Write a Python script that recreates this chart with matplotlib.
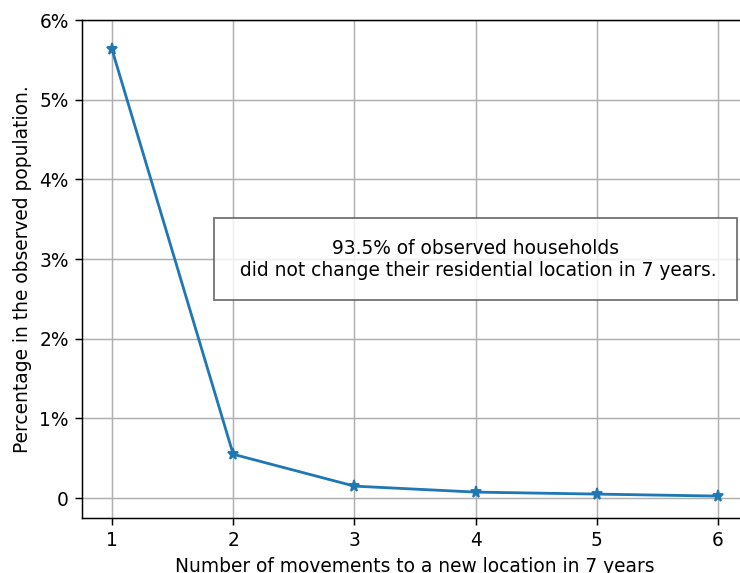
import matplotlib
matplotlib.use('Agg')
import matplotlib.pyplot as plt

moves = [1, 2, 3, 4, 5, 6]
share = [5.63, 0.55, 0.15, 0.075, 0.05, 0.025]
y_ticks = [0, 1, 2, 3, 4, 5, 6]
y_tick_labels = ['0', '1%', '2%', '3%', '4%', '5%', '6%']
note = "93.5% of observed households\n did not change their residential location in 7 years."

dpi = 134
fig = plt.figure(figsize=(740 / dpi, 573 / dpi), dpi=dpi)
# axes runs past the right edge, like the cropped original
ax = fig.add_axes([81.7 / 740, 1 - 518 / 573, 666.6 / 740, 498 / 573])

ax.plot(moves, share, marker='*', color='#1f77b4')
ax.set_xlim(0.75, 6.25)
ax.set_ylim(-0.25, 6)
ax.set_xticks(moves)
ax.set_yticks(y_ticks)
ax.set_yticklabels(y_tick_labels)
ax.grid(True)

ax.set_xlabel('Number of movements to a new location in 7 years')
ax.set_ylabel('Percentage in the observed population.')

ax.text(4.0, 3.0, note, ha='center', va='center',
        bbox=dict(boxstyle='square,pad=1.1', facecolor='white', alpha=0.8,
                  edgecolor='#555555'))

fig.savefig('out.png', dpi=dpi)
